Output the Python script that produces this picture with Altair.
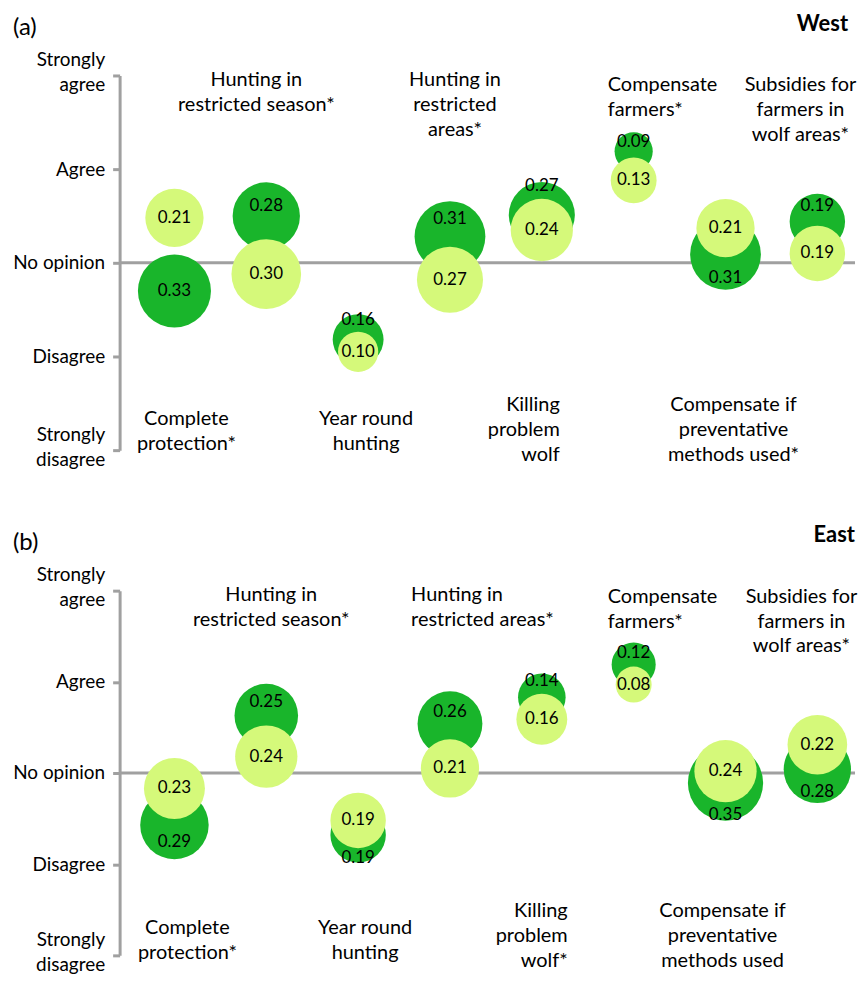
import math
import altair as alt
import pandas as pd

# ---------------- data ----------------
categories = ["Complete protection", "Hunting in restricted season", "Year round hunting",
              "Hunting in restricted areas", "Killing problem wolf", "Compensate farmers",
              "Compensate if preventative methods used", "Subsidies for farmers in wolf areas"]

west_labels = ["Complete|protection*", "Hunting in|restricted season*", "Year round|hunting",
               "Hunting in|restricted|areas*", "Killing|problem|wolf", "Compensate|farmers*",
               "Compensate if|preventative|methods used*", "Subsidies for|farmers in|wolf areas*"]
east_labels = ["Complete|protection*", "Hunting in|restricted season*", "Year round|hunting",
               "Hunting in|restricted areas*", "Killing|problem|wolf*", "Compensate|farmers*",
               "Compensate if|preventative|methods used", "Subsidies for|farmers in|wolf areas*"]

y_labels = ["Strongly|disagree", "Disagree", "No opinion", "Agree", "Strongly|agree"]

# West (a)
west_dark_mean = [2.70, 3.50, 2.18, 3.28, 3.51, 4.19, 3.09, 3.44]
west_dark_share = [0.33, 0.28, 0.16, 0.31, 0.27, 0.09, 0.31, 0.19]
west_light_mean = [3.48, 2.88, 2.05, 2.82, 3.35, 3.88, 3.37, 3.10]
west_light_share = [0.21, 0.30, 0.10, 0.27, 0.24, 0.13, 0.21, 0.19]

# East (b)
east_dark_mean = [2.43, 3.63, 2.32, 3.54, 3.83, 4.19, 2.89, 3.04]
east_dark_share = [0.29, 0.25, 0.19, 0.26, 0.14, 0.12, 0.35, 0.28]
east_light_mean = [2.83, 3.18, 2.48, 3.05, 3.59, 3.97, 3.02, 3.31]
east_light_share = [0.23, 0.24, 0.19, 0.21, 0.16, 0.08, 0.24, 0.22]

# ---------------- style / layout ----------------
DARK = "#19B52B"
LIGHT = "#D5F97A"
GRAY = "#A0A0A0"
FONT = "Lato"
W = 738

# (placement, align, dx px, dy px of first line) for each category label
west_layout = [("bottom", "center", 12, -31), ("top", "center", -10, -5),
               ("bottom", "center", 8, -31), ("top", "center", 5, -5),
               ("bottom", "right", 18, -45), ("top", "left", -26, 0),
               ("bottom", "center", 8, -45), ("top", "center", -17, 0)]
east_layout = [("bottom", "center", 13, -27), ("top", "center", 5, -6),
               ("bottom", "center", 7, -27), ("top", "left", -39, -6),
               ("bottom", "right", 26, -44), ("top", "left", -26, -4),
               ("bottom", "center", -3, -44), ("top", "center", -16, -4)]

label_expr = "split([" + ",".join("'" + s + "'" for s in y_labels) + "][datum.value - 1], '|')"

y_axis = alt.Axis(values=[1, 2, 3, 4, 5], labelExpr=label_expr, title=None,
                  domainColor=GRAY, domainWidth=3, tickColor=GRAY, tickWidth=3,
                  tickSize=7, labelFont=FONT, labelFontSize=19, labelColor="black",
                  labelPadding=8, labelLineHeight=25, labelOverlap=False, grid=False,
                  labelOffset={"condition": {"test": "datum.value == 1 || datum.value == 5",
                                             "value": -16}, "value": 0})


def panel(tag, region, height, k, dmean, dshare, lmean, lshare, labels, layout,
          tag_y, region_x, region_y):
    ppu = height / 4.0
    df = pd.DataFrame({"idx": list(range(1, 9)), "category": categories,
                       "dark_mean": dmean, "dark_share": dshare,
                       "light_mean": lmean, "light_share": lshare})
    xs = alt.Scale(domain=[0.403, 8.41])
    ys = alt.Scale(domain=[1, 5], nice=False, zero=False)
    ss = alt.Scale(domain=[0, 1], range=[0, math.pi * k * k])
    X = alt.X("idx:Q", scale=xs, axis=None)

    def Y(field):
        return alt.Y(field, type="quantitative", scale=ys, axis=y_axis, title=None)

    base = alt.Chart(df)
    rule = alt.Chart(pd.DataFrame({"level": [3]})).mark_rule(
        color=GRAY, strokeWidth=3).encode(y=Y("level"), x=alt.value(0), x2=alt.value(W))

    dark = base.mark_circle(color=DARK, opacity=1).encode(
        x=X, y=Y("dark_mean"),
        size=alt.Size("dark_share:Q", scale=ss, legend=None))
    light = base.mark_circle(color=LIGHT, opacity=1).encode(
        x=X, y=Y("light_mean"),
        size=alt.Size("light_share:Q", scale=ss, legend=None))

    dark_txt = base.transform_calculate(
        rd=f"{k}*sqrt(datum.dark_share)/{ppu}"
    ).transform_calculate(
        rl=f"{k}*sqrt(datum.light_share)/{ppu}"
    ).transform_calculate(
        dark_lab="datum.dark_mean > datum.light_mean ? "
                 "(datum.dark_mean + datum.rd + max(datum.dark_mean - datum.rd, datum.light_mean + datum.rl))/2 : "
                 "(datum.dark_mean - datum.rd + min(datum.dark_mean + datum.rd, datum.light_mean - datum.rl))/2"
    ).mark_text(font=FONT, fontSize=17, color="black").encode(
        x=X, y=Y("dark_lab:Q"), text=alt.Text("dark_share:Q", format=".2f"))
    light_txt = base.mark_text(font=FONT, fontSize=17, color="black").encode(
        x=X, y=Y("light_mean"), text=alt.Text("light_share:Q", format=".2f"))

    one = alt.Data(values=[{}])
    cat_layers = []
    for i, (lab, (place, align, dx, dy)) in enumerate(zip(labels, layout)):
        lines = lab.split("|")
        if place == "top":
            mk = alt.Chart(one).mark_text(font=FONT, fontSize=20, lineHeight=25, align=align,
                                          baseline="top", dx=dx, dy=dy, color="black")
            yv = 5
        else:
            mk = alt.Chart(one).mark_text(font=FONT, fontSize=20, lineHeight=25, align=align,
                                          baseline="middle", dx=dx, dy=dy, color="black")
            yv = 1
        cat_layers.append(mk.encode(x=alt.X(datum=i + 1, scale=xs, axis=None),
                                    y=alt.Y(datum=yv, scale=ys, axis=y_axis),
                                    text=alt.value(lines)))

    tag_txt = alt.Chart(one).mark_text(font=FONT, fontSize=24, align="left",
                                       baseline="middle", color="black").encode(
        x=alt.value(-107), y=alt.value(tag_y), text=alt.value(tag))
    reg_txt = alt.Chart(one).mark_text(font=FONT, fontSize=22, fontWeight="bold",
                                       align="right", baseline="middle", color="black").encode(
        x=alt.value(region_x), y=alt.value(region_y), text=alt.value(region))

    return alt.layer(rule, dark, light, dark_txt, light_txt, *cat_layers, tag_txt, reg_txt
                     ).properties(width=W, height=height)


west = panel("(a)", "West", 376, 72, west_dark_mean, west_dark_share, west_light_mean,
             west_light_share, west_labels, west_layout, -48, 731, -52)
east = panel("(b)", "East", 366, 70, east_dark_mean, east_dark_share, east_light_mean,
             east_light_share, east_labels, east_layout, -48, 738, -56)

chart = alt.vconcat(west, east, spacing=55).properties(
    padding={"left": 4, "top": 3, "right": 0, "bottom": 0}
).configure_view(stroke=None)

chart.save("out.html", embed_options={"renderer": "svg", "actions": False})
